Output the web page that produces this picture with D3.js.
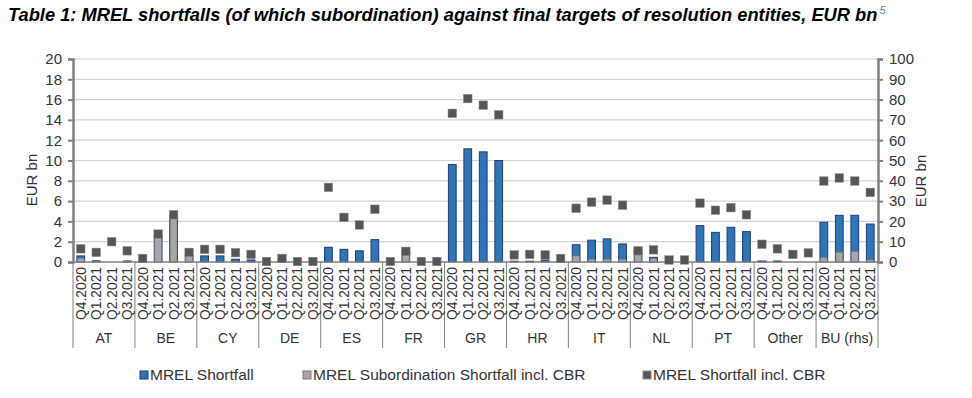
<!DOCTYPE html>
<html>
<head>
<meta charset="utf-8">
<script src="https://cdn.jsdelivr.net/npm/d3@7"></script>
<style>
  body { margin: 0; background: #fff; }
  text { font-family: Arial, "Liberation Sans", sans-serif; }
</style>
</head>
<body>
<div id="chart"></div>
<script>
// groups along the x axis, four quarters in each
const groups = ['AT', 'BE', 'CY', 'DE', 'ES', 'FR', 'GR', 'HR', 'IT', 'NL', 'PT', 'Other', 'BU (rhs)'];
const quarters = ['Q4.2020', 'Q1.2021', 'Q2.2021', 'Q3.2021'];

// EUR bn, one row per group (BU is read on the right axis)
const mrelShortfall = [
  [0.6, 0.12, 0, 0.1],
  [0.1, 2.65, 4.6, 0.6],
  [0.6, 0.6, 0.27, 0.2],
  [0, 0.25, 0, 0],
  [1.45, 1.25, 1.1, 2.2],
  [0, 1.1, 0, 0],
  [9.6, 11.15, 10.85, 10.0],
  [0.08, 0.08, 0.2, 0],
  [1.7, 2.15, 2.28, 1.78],
  [1.1, 0.46, 0, 0],
  [3.58, 2.92, 3.42, 2.99],
  [0.1, 0.1, 0, 0],
  [19.6, 23.0, 23.0, 18.7]
];
const subShortfall = [
  [0.35, 0.05, 0, 0.05],
  [0.05, 2.6, 4.55, 0.6],
  [0, 0, 0, 0],
  [0, 0, 0, 0],
  [0, 0, 0, 0],
  [0, 0.95, 0, 0],
  [0, 0, 0, 0],
  [0, 0, 0, 0],
  [0.6, 0.27, 0.27, 0.27],
  [0.7, 0.35, 0, 0],
  [0, 0, 0, 0],
  [0, 0, 0, 0],
  [2.1, 4.8, 5.1, 1.0]
];
const shortfallCbr = [
  [1.3, 0.95, 2.0, 1.1],
  [0.35, 2.75, 4.65, 0.95],
  [1.25, 1.25, 0.92, 0.75],
  [0.05, 0.35, 0.05, 0.05],
  [7.35, 4.4, 3.65, 5.2],
  [0.05, 1.05, 0.05, 0.05],
  [14.65, 16.1, 15.45, 14.5],
  [0.7, 0.75, 0.7, 0.35],
  [5.3, 5.9, 6.1, 5.6],
  [1.1, 1.2, 0.2, 0.2],
  [5.8, 5.1, 5.35, 4.65],
  [1.75, 1.3, 0.75, 0.9],
  [39.9, 41.4, 39.9, 34.3]
];
const leftTicks = [0, 2, 4, 6, 8, 10, 12, 14, 16, 18, 20];
const rightTicks = [0, 10, 20, 30, 40, 50, 60, 70, 80, 90, 100];
const legendLabels = ['MREL Shortfall', 'MREL Subordination Shortfall incl. CBR', 'MREL Shortfall incl. CBR'];

const width = 972, height = 398;
const margin = {top: 59, right: 94, bottom: 136, left: 73};
const plotW = width - margin.left - margin.right;
const plotH = height - margin.top - margin.bottom;

const BLUE = '#2e75b6', BLUE_EDGE = '#1f3a78';
const GREY = '#a6a6a6', GREY_EDGE = '#7a7a7a';
const DARK = '#555555';
const AXIS = '#808080';

// flatten into one record per bar
const rows = [];
groups.forEach((g, gi) => {
  quarters.forEach((q, qi) => {
    rows.push({
      id: gi * 4 + qi, group: g, quarter: q, rhs: g === 'BU (rhs)',
      mrel: mrelShortfall[gi][qi], sub: subShortfall[gi][qi], cbr: shortfallCbr[gi][qi]
    });
  });
});

const svg = d3.select('#chart').append('svg')
  .attr('width', width)
  .attr('height', height);

// title
const title = svg.append('text')
  .attr('x', 8)
  .attr('y', 21)
  .attr('font-size', 18.3)
  .attr('font-weight', 'bold')
  .attr('font-style', 'italic')
  .attr('fill', '#000');
title.append('tspan').text('Table 1: MREL shortfalls (of which subordination) against final targets of resolution entities, EUR bn');
title.append('tspan')
  .attr('dy', -7)
  .attr('dx', 2)
  .attr('font-size', 11)
  .attr('font-weight', 'normal')
  .attr('fill', '#4f81bd')
  .text('5');

const g = svg.append('g')
  .attr('transform', 'translate(' + margin.left + ',' + margin.top + ')');

const x = d3.scaleBand()
  .domain(rows.map(d => d.id))
  .range([0, plotW])
  .paddingInner(0.5)
  .paddingOuter(0.25);

const xGroup = d3.scaleBand()
  .domain(groups)
  .range([0, plotW]);

const yL = d3.scaleLinear().domain([0, 20]).range([plotH, 0]);
const yR = d3.scaleLinear().domain([0, 100]).range([plotH, 0]);
const yOf = d => d.rhs ? yR : yL;

// gridlines
g.append('g')
  .selectAll('line')
  .data(leftTicks.filter(t => t > 0))
  .enter().append('line')
    .attr('x1', 0)
    .attr('x2', plotW)
    .attr('y1', d => yL(d))
    .attr('y2', d => yL(d))
    .attr('stroke', '#d4d4d4')
    .attr('stroke-width', 1.2);

// bars: MREL shortfall, then the subordination part over it
g.selectAll('.bar-mrel')
  .data(rows.filter(d => d.mrel > 0))
  .enter().append('rect')
    .attr('class', 'bar-mrel')
    .attr('x', d => x(d.id))
    .attr('width', x.bandwidth())
    .attr('y', d => yOf(d)(d.mrel))
    .attr('height', d => plotH - yOf(d)(d.mrel))
    .attr('fill', BLUE)
    .attr('stroke', BLUE_EDGE)
    .attr('stroke-width', 1);

g.selectAll('.bar-sub')
  .data(rows.filter(d => d.sub > 0))
  .enter().append('rect')
    .attr('class', 'bar-sub')
    .attr('x', d => x(d.id) + 0.5)
    .attr('width', x.bandwidth() - 1)
    .attr('y', d => yOf(d)(d.sub))
    .attr('height', d => plotH - yOf(d)(d.sub))
    .attr('fill', GREY)
    .attr('stroke', GREY_EDGE)
    .attr('stroke-width', 0.6);

// axes
const leftAxis = g.append('g')
  .call(d3.axisLeft(yL).tickValues(leftTicks).tickSize(5).tickPadding(6));
const rightAxis = g.append('g')
  .attr('transform', 'translate(' + plotW + ',0)')
  .call(d3.axisRight(yR).tickValues(rightTicks).tickSize(5).tickPadding(6));
[leftAxis, rightAxis].forEach(a => {
  a.select('.domain').attr('stroke', AXIS).attr('stroke-width', 2.5);
  a.selectAll('.tick line').attr('stroke', AXIS).attr('stroke-width', 2);
  a.selectAll('.tick text').attr('font-size', 15).attr('fill', '#333')
    .style('font-family', 'Arial, "Liberation Sans", sans-serif');
});

// category axis: baseline, group separators, quarter and group labels
g.append('line')
  .attr('x1', 0).attr('x2', plotW)
  .attr('y1', plotH).attr('y2', plotH)
  .attr('stroke', AXIS)
  .attr('stroke-width', 1.5);

g.append('g')
  .selectAll('line')
  .data(groups.map(d => xGroup(d)).concat([plotW]))
  .enter().append('line')
    .attr('x1', d => d).attr('x2', d => d)
    .attr('y1', plotH).attr('y2', plotH + 86)
    .attr('stroke', AXIS)
    .attr('stroke-width', 1);

g.append('g')
  .selectAll('text')
  .data(rows)
  .enter().append('text')
    .attr('transform', d => 'translate(' + (x(d.id) + x.bandwidth() / 2 + 5) + ',' + (plotH + 5) + ') rotate(-90)')
    .attr('text-anchor', 'end')
    .attr('font-size', 13.8)
    .attr('fill', '#333')
    .text(d => d.quarter);

g.append('g')
  .selectAll('text')
  .data(groups)
  .enter().append('text')
    .attr('x', d => xGroup(d) + xGroup.bandwidth() / 2)
    .attr('y', plotH + 81)
    .attr('text-anchor', 'middle')
    .attr('font-size', 14)
    .attr('fill', '#333')
    .text(d => d);

// MREL shortfall incl. CBR markers
g.selectAll('.mark')
  .data(rows)
  .enter().append('rect')
    .attr('class', 'mark')
    .attr('x', d => x(d.id) + x.bandwidth() / 2 - 4.25)
    .attr('y', d => yOf(d)(d.cbr) - 4.25)
    .attr('width', 8.5)
    .attr('height', 8.5)
    .attr('fill', DARK)
    .attr('stroke', '#8a8a8a')
    .attr('stroke-width', 0.5);

// axis titles
svg.append('text')
  .attr('transform', 'translate(37,180) rotate(-90)')
  .attr('text-anchor', 'middle')
  .attr('font-size', 15)
  .attr('fill', '#333')
  .text('EUR bn');
svg.append('text')
  .attr('transform', 'translate(926,181) rotate(-90)')
  .attr('text-anchor', 'middle')
  .attr('font-size', 15)
  .attr('fill', '#333')
  .text('EUR bn');

// legend
const legendX = [140, 303, 643];
const legendFill = [BLUE, GREY, DARK];
const legendEdge = [BLUE_EDGE, GREY_EDGE, '#8a8a8a'];
const legend = svg.append('g')
  .selectAll('g')
  .data(legendLabels)
  .enter().append('g')
    .attr('transform', (d, i) => 'translate(' + legendX[i] + ',371)');
legend.append('rect')
  .attr('width', 8).attr('height', 8)
  .attr('fill', (d, i) => legendFill[i])
  .attr('stroke', (d, i) => legendEdge[i])
  .attr('stroke-width', 1);
legend.append('text')
  .attr('x', 10)
  .attr('y', 9)
  .attr('font-size', 15.5)
  .attr('fill', '#333')
  .text(d => d);
</script>
</body>
</html>
